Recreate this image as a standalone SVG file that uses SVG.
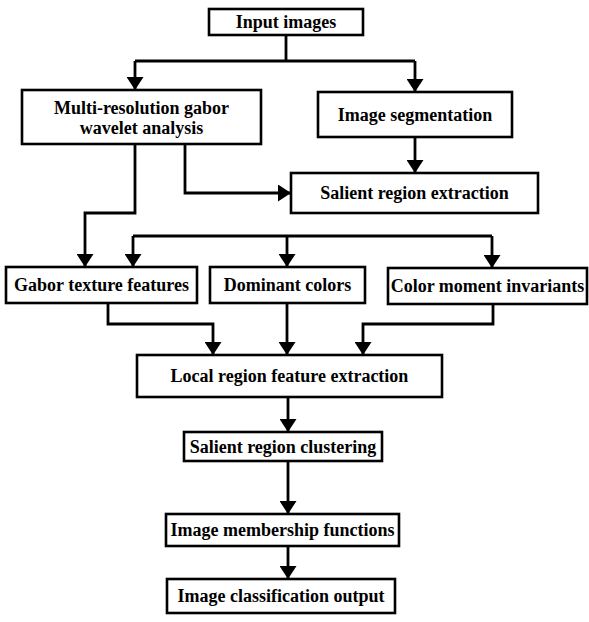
<svg xmlns="http://www.w3.org/2000/svg" width="589" height="622" viewBox="0 0 589 622">
<style>
.box{fill:#fff;stroke:#000;stroke-width:2.6}
.t{font-family:'Liberation Serif','DejaVu Serif',serif;font-weight:bold;font-size:18px;fill:#000;text-anchor:middle}
.c{fill:none;stroke:#000;stroke-width:2.8}
</style>
<defs>
<marker id="ah" markerUnits="userSpaceOnUse" markerWidth="16" markerHeight="17" viewBox="0 0 13 17" refX="13" refY="8.5" orient="auto">
<path d="M0,0 L13,8.5 L0,17 Z" fill="#000"/>
</marker>
</defs>
<g id="connectors">
<path class="c" d="M286,35 V61 M135,61 H415"/>
<path class="c" d="M135,61 V90" marker-end="url(#ah)"/>
<path class="c" d="M415,61 V92" marker-end="url(#ah)"/>
<path class="c" d="M415,137 V173" marker-end="url(#ah)"/>
<path class="c" d="M185,144 V193 H291" marker-end="url(#ah)"/>
<path class="c" d="M135,144 V213 H85 V267" marker-end="url(#ah)"/>
<path class="c" d="M133,236 H492"/>
<path class="c" d="M133,236 V267" marker-end="url(#ah)"/>
<path class="c" d="M287,236 V267" marker-end="url(#ah)"/>
<path class="c" d="M492,236 V268" marker-end="url(#ah)"/>
<path class="c" d="M108,303 V324 H213 V355" marker-end="url(#ah)"/>
<path class="c" d="M287,303 V355" marker-end="url(#ah)"/>
<path class="c" d="M493,304 V324 H363 V355" marker-end="url(#ah)"/>
<path class="c" d="M288,397 V432" marker-end="url(#ah)"/>
<path class="c" d="M288,461 V514" marker-end="url(#ah)"/>
<path class="c" d="M288,546 V579" marker-end="url(#ah)"/>
</g>
<g id="input"><rect class="box" x="209" y="9" width="154" height="26"/><text class="t" x="286" y="28">Input images</text></g>
<g id="multires"><rect class="box" x="22" y="90" width="239" height="54"/><text class="t" x="141.5" y="114">Multi-resolution gabor</text><text class="t" x="141.5" y="134">wavelet analysis</text></g>
<g id="segmentation"><rect class="box" x="318" y="92" width="194" height="45"/><text class="t" x="415" y="121">Image segmentation</text></g>
<g id="salient"><rect class="box" x="291" y="173" width="247" height="40"/><text class="t" x="414.5" y="199">Salient region extraction</text></g>
<g id="gabor"><rect class="box" x="6" y="267" width="191" height="36"/><text class="t" x="101.5" y="291">Gabor texture features</text></g>
<g id="dominant"><rect class="box" x="210" y="267" width="155" height="36"/><text class="t" x="287.5" y="291">Dominant colors</text></g>
<g id="colormoment"><rect class="box" x="388" y="268" width="199" height="36"/><text class="t" x="487.5" y="292">Color moment invariants</text></g>
<g id="local"><rect class="box" x="137" y="355" width="305" height="42"/><text class="t" x="289.5" y="382">Local region feature extraction</text></g>
<g id="clustering"><rect class="box" x="184" y="432" width="198" height="29"/><text class="t" x="283" y="452.5">Salient region clustering</text></g>
<g id="membership"><rect class="box" x="166" y="514" width="233" height="32"/><text class="t" x="282.5" y="536">Image membership functions</text></g>
<g id="classification"><rect class="box" x="167" y="579" width="228" height="34"/><text class="t" x="281" y="602">Image classification output</text></g>
</svg>
